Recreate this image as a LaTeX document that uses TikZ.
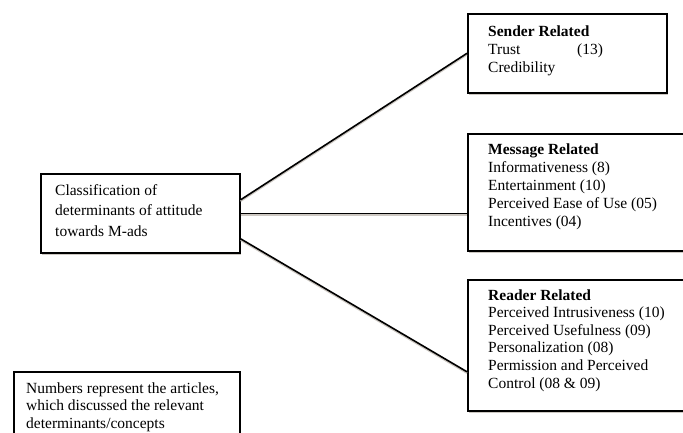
\documentclass[tikz,border=0pt]{standalone}
\usepackage{fontspec}
\setmainfont{Liberation Serif}
\usetikzlibrary{shadows,calc}
\definecolor{shade}{RGB}{205,200,194}
\begin{document}
\begin{tikzpicture}[x=1pt,y=-1pt,
  box/.style={draw=black, line width=1.6pt, fill=white, inner sep=0pt, rectangle, anchor=north west,
    drop shadow={shadow xshift=1.5pt, shadow yshift=-2pt, fill=shade, opacity=1}},
  txt/.style={anchor=north west, inner sep=0pt, align=left},
  link/.style={line width=1.6pt, draw=black},
  linkshadow/.style={line width=1.6pt, draw=shade, transform canvas={yshift=-1.4pt}}]
\useasboundingbox (0,0) rectangle (683,432);
\clip (0,0) rectangle (683,432);
% boxes
\node[box, minimum width=199pt, minimum height=79pt] (L) at (40,173) {};
\node[box, minimum width=199pt, minimum height=79pt] (S) at (467,13) {};
\node[box, minimum width=235pt, minimum height=117pt] (M) at (467,133) {};
\node[box, minimum width=235pt, minimum height=131pt] (R) at (467,279) {};
\node[box, minimum width=226pt, minimum height=80pt] (N) at (13,371) {};
% texts
\node[txt, font=\fontsize{15.5}{20.5}\selectfont] (LT) at (55,184.2)
  {Classification of\\determinants of attitude\\towards M-ads};
\node[txt, font=\fontsize{15.5}{18}\selectfont] (ST) at (488,25.2)
  {\textbf{Sender Related}\\\makebox[89pt][l]{Trust}(13)\\Credibility};
\node[txt, font=\fontsize{15.5}{18}\selectfont] (MT) at (488,143.2)
  {\textbf{Message Related}\\Informativeness (8)\\Entertainment (10)\\Perceived Ease of Use (05)\\Incentives (04)};
\node[txt, font=\fontsize{15.5}{17.6}\selectfont] (RT) at (488,289.2)
  {\textbf{Reader Related}\\Perceived Intrusiveness (10)\\Perceived Usefulness (09)\\Personalization (08)\\Permission and Perceived\\Control (08 \& 09)};
\node[txt, font=\fontsize{15.5}{17.5}\selectfont] (NT) at (26,382.2)
  {Numbers represent the articles,\\which discussed the relevant\\determinants/concepts};
% connector shadows
\draw[linkshadow] ([yshift=13.5pt]L.east) -- (S.west);
\draw[linkshadow] (L.east) -- (L.east -| M.west);
\draw[linkshadow] ([yshift=-25.5pt]L.east) -- ([yshift=-26.5pt]R.west);
% connectors
\draw[link] ([yshift=13.5pt]L.east) -- (S.west);
\draw[link] (L.east) -- (L.east -| M.west);
\draw[link] ([yshift=-25.5pt]L.east) -- ([yshift=-26.5pt]R.west);
\end{tikzpicture}
\end{document}
